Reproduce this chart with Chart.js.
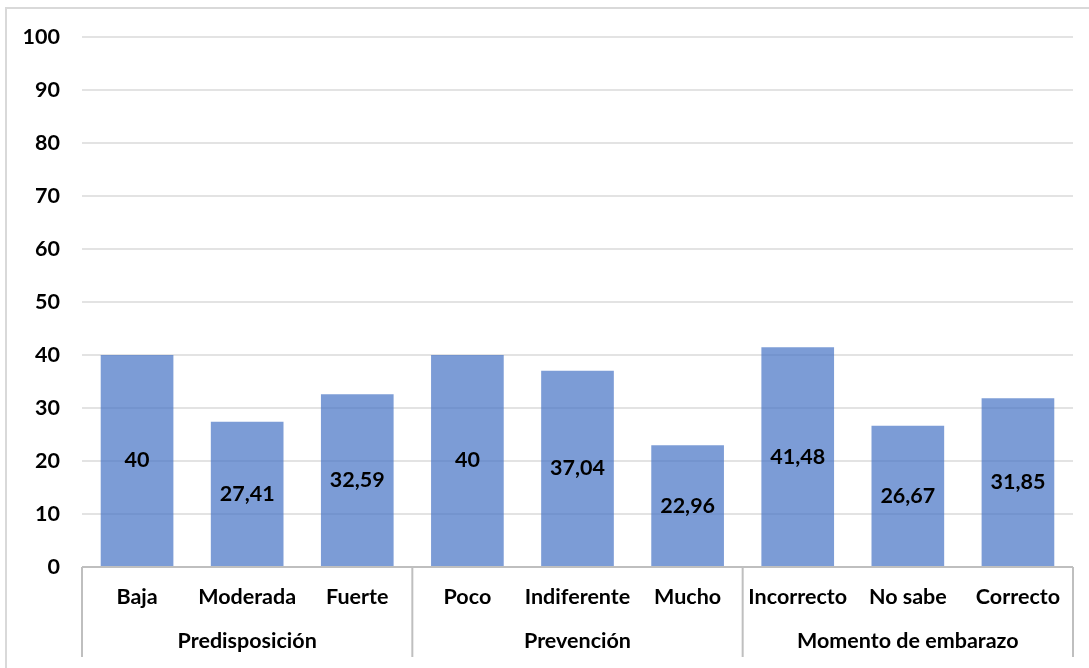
<!DOCTYPE html>
<html>
<head>
<meta charset="utf-8">
<script src="https://cdn.jsdelivr.net/npm/chart.js@4.4.1/dist/chart.umd.min.js"></script>
<style>
  html, body { margin: 0; padding: 0; background: #fff; }
  #wrap { position: relative; width: 1089px; height: 668px; }
</style>
</head>
<body>
<div id="wrap"><canvas id="chart" width="1089" height="668"></canvas></div>
<script>
// Data
const categories = ['Baja', 'Moderada', 'Fuerte', 'Poco', 'Indiferente', 'Mucho', 'Incorrecto', 'No sabe', 'Correcto'];
const values = [40, 27.41, 32.59, 40, 37.04, 22.96, 41.48, 26.67, 31.85];
const groupNames = ['Predisposición', 'Prevención', 'Momento de embarazo'];
const groupSizes = [3, 3, 3];
const yTicks = [0, 10, 20, 30, 40, 50, 60, 70, 80, 90, 100];

const FONT = 'Lato, "Open Sans", sans-serif';
const FSIZE = 21.5;

// draws frame, x axis line, category + group labels, value labels
const extrasPlugin = {
  id: 'extras',
  beforeDraw(chart) {
    const c = chart.ctx;
    c.save();
    c.strokeStyle = '#d9d9d9';
    c.lineWidth = 2;
    c.beginPath();
    c.moveTo(6, 668);
    c.lineTo(6, 8);
    c.lineTo(1089, 8);
    c.stroke();
    c.restore();
  },
  afterDraw(chart) {
    const c = chart.ctx;
    const x = chart.scales.x;
    const area = chart.chartArea;
    const bottom = area.bottom;
    c.save();

    // axis line and group separators
    c.strokeStyle = '#bfbfbf';
    c.lineWidth = 2;
    c.beginPath();
    c.moveTo(area.left, bottom);
    c.lineTo(area.right, bottom);
    let idx = 0;
    const step = (area.right - area.left) / categories.length;
    const edges = [area.left];
    groupSizes.forEach(n => { idx += n; edges.push(area.left + idx * step); });
    edges.forEach(ex => { c.moveTo(ex, bottom); c.lineTo(ex, 657); });
    c.stroke();

    // category labels
    c.fillStyle = '#000';
    c.font = 'bold ' + FSIZE + 'px ' + FONT;
    c.textAlign = 'center';
    c.textBaseline = 'middle';
    categories.forEach((lab, i) => {
      c.fillText(lab, x.getPixelForValue(i), 597);
    });

    // group labels
    groupNames.forEach((g, i) => {
      c.fillText(g, (edges[i] + edges[i + 1]) / 2, 641);
    });

    // value labels in the middle of each bar
    const meta = chart.getDatasetMeta(0);
    meta.data.forEach((bar, i) => {
      const txt = String(values[i]).replace('.', ',');
      c.fillText(txt, bar.x, (bar.y + bar.base) / 2);
    });
    c.restore();
  }
};

new Chart(document.getElementById('chart'), {
  type: 'bar',
  data: {
    labels: categories,
    datasets: [{
      data: values,
      backgroundColor: 'rgba(68,114,196,0.7)',
      borderWidth: 0,
      barPercentage: 0.66,
      categoryPercentage: 1
    }]
  },
  plugins: [extrasPlugin],
  options: {
    responsive: false,
    animation: false,
    layout: { padding: { top: 37, right: 16, bottom: 0, left: 0 } },
    plugins: { legend: { display: false }, tooltip: { enabled: false } },
    scales: {
      x: {
        grid: { display: false },
        border: { display: false },
        ticks: { display: false },
        afterFit(s) { s.height = 101; }
      },
      y: {
        min: 0,
        max: 100,
        afterBuildTicks(s) { s.ticks = yTicks.map(v => ({ value: v })); },
        grid: { color: '#e3e3e3', lineWidth: 2, drawTicks: false },
        border: { display: false },
        ticks: { color: '#000', font: { family: FONT, size: FSIZE, weight: 'bold' }, padding: 22 },
        afterFit(s) { s.width = 82; }
      }
    }
  }
});
</script>
</body>
</html>
